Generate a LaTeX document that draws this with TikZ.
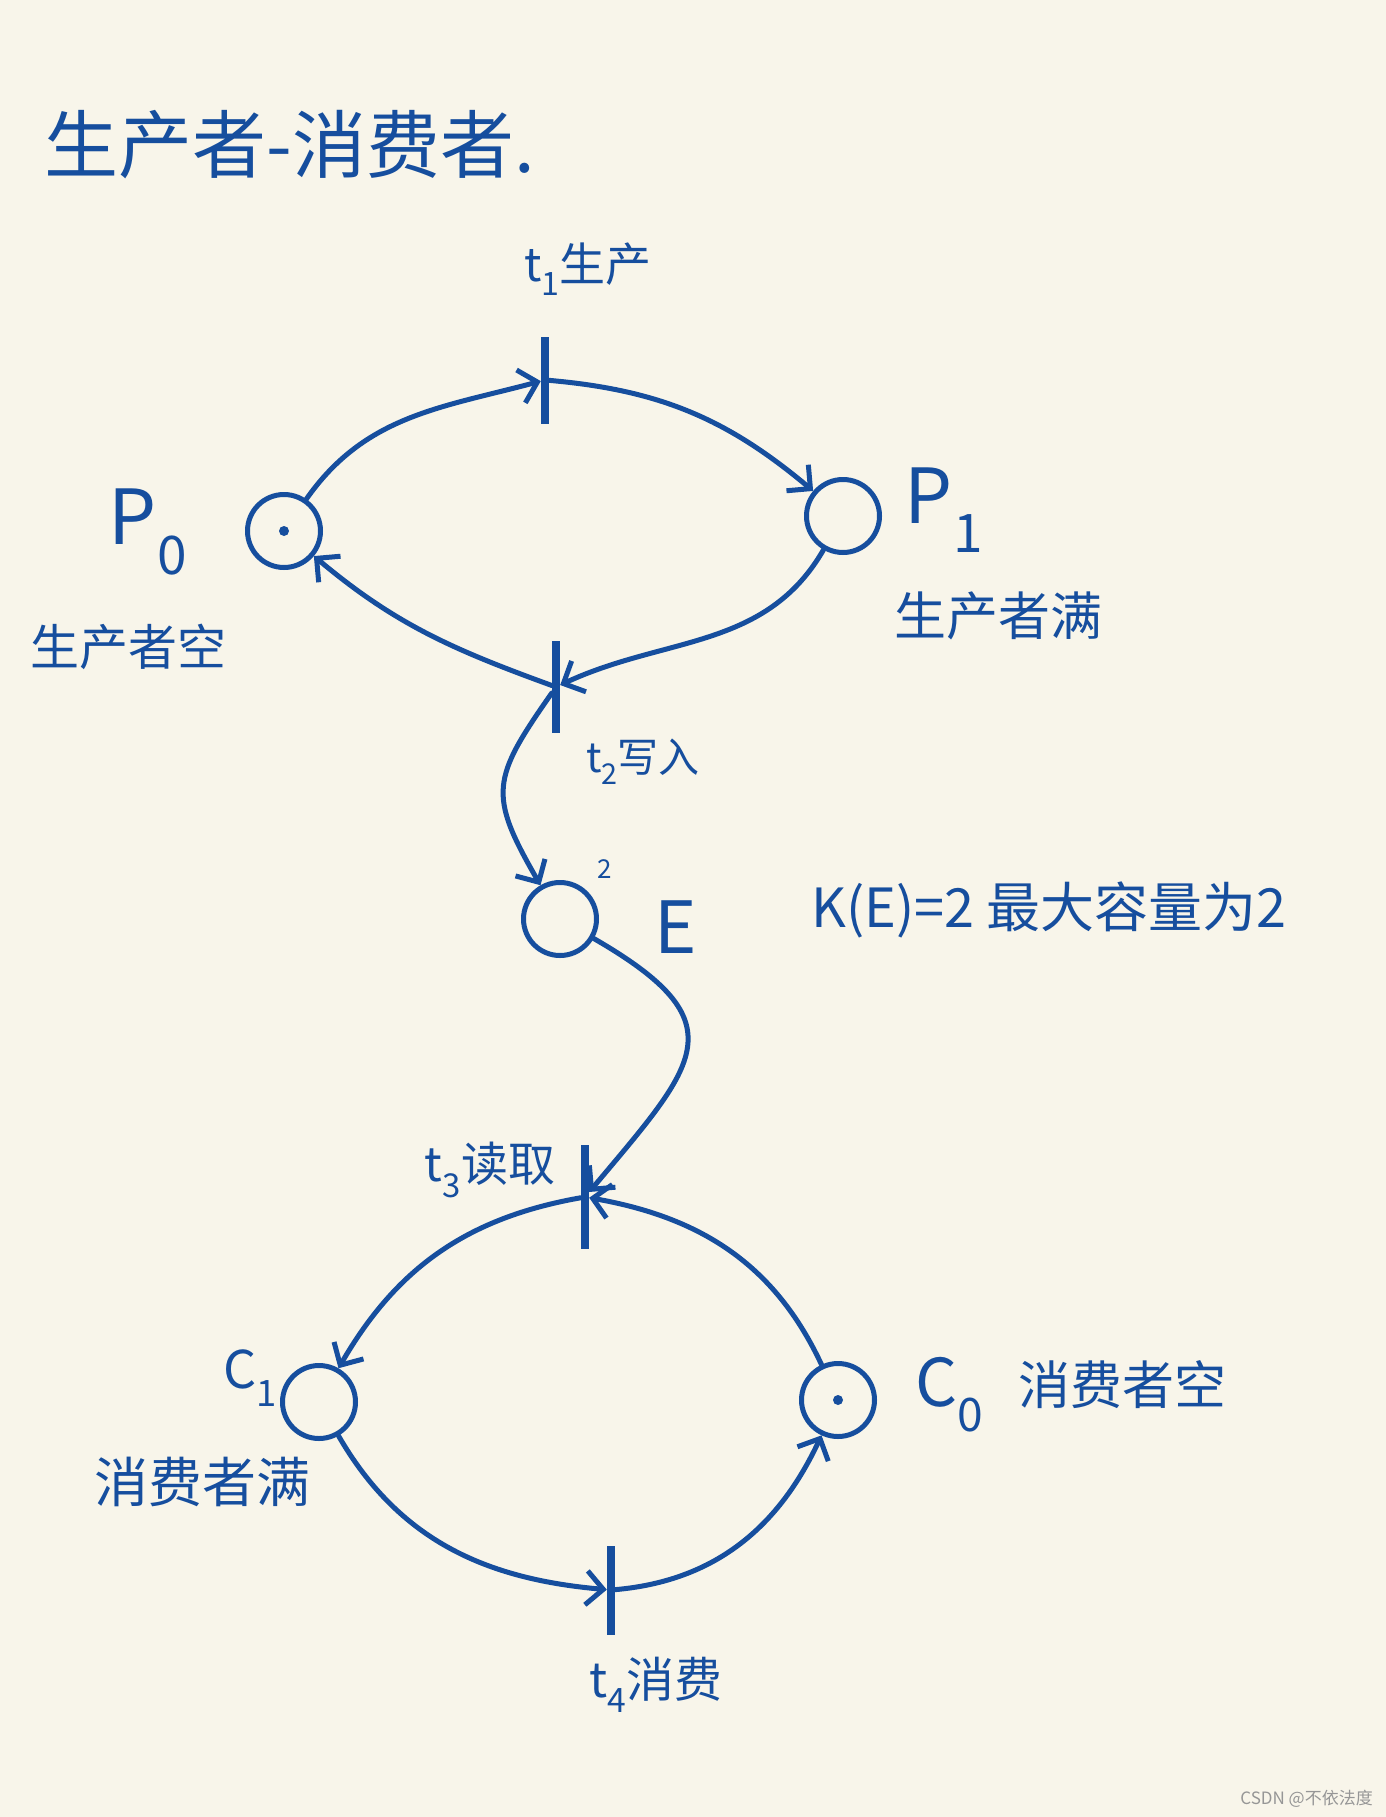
\documentclass[tikz,border=0pt]{standalone}
\usepackage{fontspec}
\newfontfamily\cjk{Noto Sans CJK SC}
\usetikzlibrary{arrows.meta}
\definecolor{ink}{RGB}{22,78,158}
\definecolor{paper}{RGB}{248,245,234}
\definecolor{mark}{RGB}{150,150,150}
\begin{document}
\begin{tikzpicture}[x=1pt,y=1pt,
  place/.style={circle,draw=ink,line width=5pt,minimum size=73pt,inner sep=0pt},
  trans/.style={rectangle,fill=ink,draw=none,minimum width=8pt,inner sep=0pt},
  token/.style={circle,fill=ink,minimum size=10pt,inner sep=0pt},
  arc/.style={draw=ink,line width=5pt,line cap=round,-{Straight Barb[length=17pt,width=34pt]}},
  lbl/.style={text=ink,font=\cjk,inner sep=0pt},
]
\fill[paper] (0,0) rectangle (1386,-1817);
\useasboundingbox (0,0) rectangle (1386,-1817);

% places
\node[place] (P0) at (284,-531) {};
\node[token] (P0tok) at (P0) {};
\node[place] (P1) at (843,-516) {};
\node[place] (E) at (560,-919) {};
\node[place] (C1) at (319,-1402) {};
\node[place] (C0) at (838,-1400) {};
\node[token] (C0tok) at (C0) {};

% transitions
\node[trans,minimum height=87pt] (t1) at (545,-380) {};
\node[trans,minimum height=92pt] (t2) at (556,-687) {};
\node[trans,minimum height=104pt] (t3) at (585,-1197) {};
\node[trans,minimum height=89pt] (t4) at (611,-1590) {};

% arcs
\draw[arc] (P0) to[out=55,in=195] (t1);
\draw[arc] (t1) to[out=-5,in=140] (P1);
\draw[arc] (P1) to[out=-120,in=25] (t2);
\draw[arc] (t2) to[out=160,in=-40] (P0);
\draw[arc] (t2) to[out=-125,in=120,looseness=1.4] (E);
\draw[arc] (E) to[out=-30,in=50,looseness=1.7] (t3);
\draw[arc] (t3) to[out=190,in=60] (C1);
\draw[arc] (C0) to[out=115,in=-10] (t3);
\draw[arc] (C1) to[out=-60,in=175] (t4);
\draw[arc] (t4) to[out=5,in=-115] (C0);

% labels
\node[lbl,font=\cjk\fontsize{74}{84}\selectfont] (title) at (290,-145) {生产者-消费者.};
\node[lbl,font=\cjk\fontsize{46}{54}\selectfont] (t1l) at (588,-269) {t\textsubscript{1}生产};
\node[lbl,font=\cjk\fontsize{76}{86}\selectfont] (P0l) at (148,-532) {P\textsubscript{0}};
\node[lbl,font=\cjk\fontsize{49}{56}\selectfont] (P0d) at (128,-647) {生产者空};
\node[lbl,font=\cjk\fontsize{76}{86}\selectfont] (P1l) at (944,-510) {P\textsubscript{1}};
\node[lbl,font=\cjk\fontsize{52}{60}\selectfont] (P1d) at (998,-616) {生产者满};
\node[lbl,font=\cjk\fontsize{41}{48}\selectfont] (t2l) at (643,-762) {t\textsubscript{2}写入};
\node[lbl,font=\cjk\fontsize{26}{30}\selectfont] (Ecap) at (605,-869) {2};
\node[lbl,font=\cjk\fontsize{72}{80}\selectfont] (El) at (676,-927) {E};
\node[lbl,font=\cjk\fontsize{54}{62}\selectfont,anchor=west] (K) at (811,-910) {K(E)=2 最大容量为2};
\node[lbl,font=\cjk\fontsize{47}{54}\selectfont] (t3l) at (490,-1170) {t\textsubscript{3}读取};
\node[lbl,font=\cjk\fontsize{52}{60}\selectfont] (C1l) at (250,-1378) {C\textsubscript{1}};
\node[lbl,font=\cjk\fontsize{54}{62}\selectfont] (C1d) at (202,-1482) {消费者满};
\node[lbl,font=\cjk\fontsize{66}{74}\selectfont] (C0l) at (950,-1395) {C\textsubscript{0}};
\node[lbl,font=\cjk\fontsize{52}{60}\selectfont] (C0d) at (1122,-1385) {消费者空};
\node[lbl,font=\cjk\fontsize{48}{56}\selectfont] (t4l) at (656,-1685) {t\textsubscript{4}消费};
\node[text=mark,font=\cjk\fontsize{17}{20}\selectfont,anchor=east,inner sep=0pt] (wm) at (1373,-1799) {CSDN @不依法度};
\end{tikzpicture}
\end{document}
